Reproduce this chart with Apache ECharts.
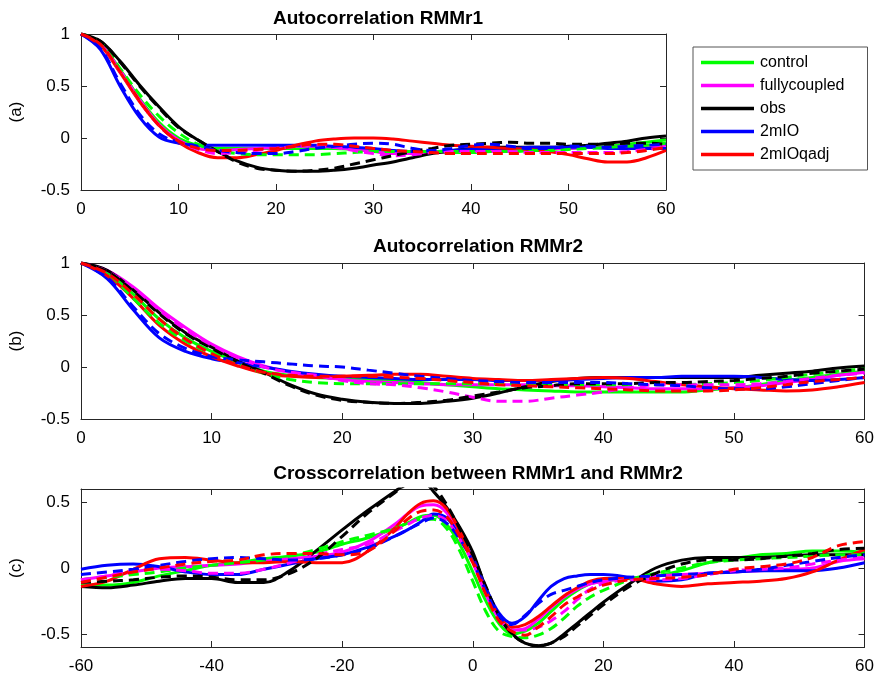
<!DOCTYPE html>
<html>
<head>
<meta charset="utf-8">
<script src="https://cdn.jsdelivr.net/npm/echarts@6/dist/echarts.min.js"></script>
<style>html,body{margin:0;padding:0;background:#fff}#c{width:877px;height:677px}</style>
</head>
<body>
<div id="c"></div>
<script>
// ---------- data ----------
const seriesNames = ['control', 'fullycoupled', 'obs', '2mIO', '2mIOqadj'];
const xTicksAB = [0, 10, 20, 30, 40, 50, 60];
const xTicksC = [-60, -40, -20, 0, 20, 40, 60];
const yTicksAB = [-0.5, 0, 0.5, 1];
const yTicksC = [-0.5, 0, 0.5];

const lagsAB = [0,2,4,6,8,10,12,14,16,18,20,22,24,26,28,30,32,34,36,38,40,42,44,46,48,50,52,54,56,58,60];

// (a) Autocorrelation RMMr1
const aControl     = [1,0.9,0.66,0.38,0.15,0.0,-0.07,-0.1,-0.1,-0.1,-0.1,-0.1,-0.1,-0.1,-0.11,-0.12,-0.13,-0.14,-0.14,-0.14,-0.14,-0.13,-0.13,-0.12,-0.11,-0.1,-0.09,-0.08,-0.06,-0.04,-0.02];
const aControlDash = [1,0.92,0.67,0.42,0.21,0.05,-0.06,-0.12,-0.15,-0.16,-0.16,-0.16,-0.16,-0.15,-0.14,-0.13,-0.13,-0.13,-0.13,-0.13,-0.13,-0.13,-0.13,-0.12,-0.12,-0.11,-0.1,-0.09,-0.08,-0.07,-0.05];
const aFully       = [1,0.9,0.65,0.37,0.13,-0.02,-0.1,-0.12,-0.11,-0.1,-0.09,-0.08,-0.08,-0.09,-0.11,-0.13,-0.15,-0.15,-0.14,-0.13,-0.12,-0.11,-0.1,-0.1,-0.1,-0.1,-0.09,-0.09,-0.08,-0.08,-0.07];
const aFullyDash   = [1,0.9,0.64,0.36,0.12,-0.03,-0.11,-0.15,-0.14,-0.12,-0.1,-0.08,-0.07,-0.09,-0.12,-0.15,-0.17,-0.16,-0.14,-0.13,-0.13,-0.13,-0.13,-0.14,-0.14,-0.14,-0.14,-0.14,-0.13,-0.11,-0.09];
const aObs         = [1,0.93,0.74,0.51,0.3,0.11,-0.02,-0.13,-0.22,-0.28,-0.31,-0.32,-0.32,-0.31,-0.29,-0.26,-0.23,-0.19,-0.15,-0.12,-0.1,-0.09,-0.09,-0.09,-0.09,-0.08,-0.07,-0.05,-0.03,0.0,0.02];
const aObsDash     = [1,0.93,0.73,0.5,0.29,0.1,-0.02,-0.13,-0.23,-0.29,-0.31,-0.32,-0.31,-0.29,-0.25,-0.21,-0.17,-0.13,-0.1,-0.07,-0.06,-0.05,-0.04,-0.05,-0.05,-0.06,-0.06,-0.06,-0.05,-0.05,-0.06];
const aIO          = [1,0.85,0.5,0.2,0.01,-0.05,-0.07,-0.07,-0.07,-0.07,-0.07,-0.07,-0.07,-0.08,-0.09,-0.1,-0.12,-0.13,-0.13,-0.12,-0.11,-0.1,-0.1,-0.09,-0.09,-0.09,-0.09,-0.1,-0.1,-0.1,-0.1];
const aIODash      = [1,0.86,0.53,0.23,0.04,-0.04,-0.08,-0.12,-0.14,-0.15,-0.15,-0.13,-0.1,-0.08,-0.06,-0.05,-0.06,-0.1,-0.12,-0.1,-0.07,-0.06,-0.08,-0.1,-0.1,-0.08,-0.08,-0.09,-0.08,-0.07,-0.06];
const aQadj        = [1,0.89,0.63,0.35,0.12,-0.04,-0.14,-0.19,-0.19,-0.16,-0.12,-0.07,-0.03,-0.01,0.0,0.0,-0.01,-0.03,-0.05,-0.07,-0.08,-0.09,-0.1,-0.11,-0.13,-0.16,-0.2,-0.23,-0.23,-0.19,-0.12];
const aQadjDash    = [1,0.9,0.64,0.36,0.12,-0.03,-0.1,-0.12,-0.12,-0.11,-0.1,-0.08,-0.06,-0.06,-0.08,-0.1,-0.12,-0.13,-0.14,-0.15,-0.15,-0.15,-0.15,-0.15,-0.15,-0.15,-0.15,-0.15,-0.14,-0.12,-0.09];

// (b) Autocorrelation RMMr2
const bControl     = [1,0.91,0.7,0.46,0.28,0.15,0.05,-0.04,-0.08,-0.1,-0.11,-0.12,-0.13,-0.15,-0.17,-0.19,-0.21,-0.22,-0.23,-0.24,-0.24,-0.24,-0.24,-0.24,-0.22,-0.2,-0.17,-0.13,-0.1,-0.07,-0.04];
const bControlDash = [1,0.9,0.66,0.42,0.25,0.13,0.03,-0.06,-0.12,-0.15,-0.16,-0.16,-0.16,-0.16,-0.16,-0.16,-0.16,-0.16,-0.17,-0.17,-0.17,-0.17,-0.17,-0.17,-0.16,-0.15,-0.13,-0.1,-0.07,-0.04,-0.02];
const bFully       = [1,0.93,0.77,0.56,0.38,0.22,0.1,0.01,-0.05,-0.09,-0.12,-0.14,-0.15,-0.16,-0.17,-0.17,-0.17,-0.17,-0.18,-0.18,-0.19,-0.2,-0.21,-0.21,-0.21,-0.2,-0.18,-0.15,-0.12,-0.08,-0.05];
const bFullyDash   = [1,0.92,0.75,0.54,0.36,0.2,0.09,0.0,-0.05,-0.08,-0.13,-0.16,-0.17,-0.2,-0.24,-0.29,-0.33,-0.33,-0.3,-0.27,-0.24,-0.2,-0.17,-0.17,-0.17,-0.17,-0.16,-0.14,-0.11,-0.08,-0.06];
const bObs         = [1,0.93,0.74,0.52,0.33,0.19,0.06,-0.05,-0.17,-0.26,-0.31,-0.34,-0.35,-0.35,-0.33,-0.3,-0.25,-0.19,-0.14,-0.11,-0.1,-0.1,-0.1,-0.1,-0.1,-0.1,-0.08,-0.06,-0.04,-0.01,0.01];
const bObsDash     = [1,0.92,0.73,0.51,0.32,0.18,0.05,-0.06,-0.18,-0.27,-0.32,-0.34,-0.35,-0.34,-0.32,-0.28,-0.24,-0.2,-0.18,-0.16,-0.16,-0.16,-0.15,-0.15,-0.14,-0.13,-0.11,-0.09,-0.06,-0.04,-0.02];
const bIO          = [1,0.85,0.55,0.28,0.15,0.08,0.04,0.0,-0.04,-0.07,-0.09,-0.1,-0.11,-0.12,-0.12,-0.12,-0.13,-0.13,-0.13,-0.12,-0.11,-0.1,-0.1,-0.09,-0.09,-0.09,-0.1,-0.12,-0.13,-0.12,-0.1];
const bIODash      = [1,0.86,0.58,0.32,0.18,0.1,0.07,0.05,0.03,0.01,0.0,-0.03,-0.06,-0.09,-0.11,-0.13,-0.14,-0.15,-0.15,-0.15,-0.15,-0.16,-0.17,-0.18,-0.2,-0.21,-0.21,-0.19,-0.16,-0.13,-0.1];
const bQadj        = [1,0.88,0.66,0.4,0.22,0.1,0.01,-0.06,-0.09,-0.1,-0.09,-0.08,-0.07,-0.07,-0.09,-0.11,-0.12,-0.13,-0.12,-0.11,-0.1,-0.11,-0.14,-0.17,-0.19,-0.21,-0.22,-0.23,-0.22,-0.19,-0.15];
const bQadjDash    = [1,0.9,0.7,0.46,0.27,0.13,0.02,-0.05,-0.08,-0.09,-0.09,-0.09,-0.1,-0.11,-0.13,-0.15,-0.17,-0.18,-0.19,-0.2,-0.21,-0.22,-0.23,-0.23,-0.23,-0.22,-0.2,-0.17,-0.14,-0.12,-0.1];

// (c) Crosscorrelation between RMMr1 and RMMr2
const lagsC = [-60,-56,-52,-48,-44,-40,-36,-32,-28,-24,-20,-16,-12,-10,-8,-6,-4,-2,0,2,4,6,8,10,12,14,16,18,20,24,28,32,36,40,44,48,52,56,60];
const cControl     = [-0.13,-0.13,-0.11,-0.06,-0.02,0.02,0.04,0.07,0.09,0.12,0.18,0.23,0.3,0.34,0.39,0.4,0.33,0.18,-0.03,-0.25,-0.42,-0.5,-0.48,-0.42,-0.33,-0.24,-0.17,-0.12,-0.1,-0.08,-0.06,-0.02,0.04,0.07,0.1,0.11,0.13,0.13,0.12];
const cControlDash = [-0.09,-0.07,-0.05,-0.03,0.0,0.02,0.04,0.06,0.09,0.14,0.2,0.25,0.3,0.34,0.37,0.37,0.3,0.13,-0.1,-0.33,-0.48,-0.52,-0.53,-0.51,-0.46,-0.38,-0.29,-0.22,-0.17,-0.09,-0.04,0.0,0.04,0.06,0.07,0.08,0.09,0.1,0.1];
const cFully       = [-0.09,-0.06,-0.03,0.0,0.01,0.02,0.03,0.05,0.07,0.09,0.12,0.2,0.33,0.41,0.47,0.48,0.42,0.25,0.05,-0.18,-0.37,-0.47,-0.46,-0.39,-0.3,-0.22,-0.16,-0.12,-0.1,-0.08,-0.06,-0.05,-0.04,-0.03,-0.02,-0.01,0.0,0.05,0.07];
const cFullyDash   = [-0.09,-0.06,-0.02,-0.01,-0.02,-0.04,-0.04,-0.01,0.04,0.1,0.14,0.18,0.28,0.33,0.38,0.4,0.36,0.22,0.04,-0.2,-0.38,-0.47,-0.47,-0.45,-0.4,-0.33,-0.24,-0.16,-0.12,-0.09,-0.09,-0.08,-0.05,-0.02,-0.01,0.0,0.03,0.06,0.08];
const cObs         = [-0.14,-0.15,-0.13,-0.1,-0.08,-0.08,-0.11,-0.11,-0.02,0.13,0.29,0.44,0.58,0.64,0.67,0.58,0.46,0.31,0.12,-0.15,-0.36,-0.5,-0.57,-0.59,-0.57,-0.5,-0.42,-0.34,-0.26,-0.12,0.0,0.06,0.08,0.08,0.08,0.09,0.1,0.1,0.1];
const cObsDash     = [-0.11,-0.1,-0.09,-0.07,-0.06,-0.07,-0.09,-0.09,-0.04,0.07,0.24,0.42,0.57,0.64,0.68,0.62,0.48,0.3,0.1,-0.14,-0.36,-0.5,-0.57,-0.59,-0.57,-0.52,-0.44,-0.36,-0.28,-0.14,-0.04,0.03,0.06,0.06,0.07,0.09,0.11,0.14,0.15];
const cIO          = [-0.01,0.02,0.03,0.01,-0.03,-0.05,-0.05,-0.01,0.03,0.07,0.1,0.16,0.24,0.29,0.35,0.41,0.38,0.24,0.08,-0.15,-0.34,-0.42,-0.37,-0.25,-0.14,-0.08,-0.06,-0.05,-0.05,-0.07,-0.1,-0.09,-0.04,-0.03,-0.02,-0.02,-0.02,0.0,0.04];
const cIODash      = [-0.05,-0.03,-0.01,0.02,0.05,0.07,0.08,0.07,0.06,0.07,0.1,0.15,0.24,0.29,0.34,0.38,0.34,0.22,0.05,-0.17,-0.36,-0.43,-0.36,-0.27,-0.2,-0.17,-0.14,-0.11,-0.09,-0.07,-0.06,-0.05,-0.04,-0.03,-0.01,0.02,0.05,0.08,0.1];
const cQadj        = [-0.14,-0.1,-0.01,0.07,0.08,0.06,0.04,0.04,0.05,0.04,0.04,0.13,0.3,0.41,0.49,0.51,0.45,0.28,0.06,-0.17,-0.37,-0.45,-0.43,-0.37,-0.29,-0.21,-0.15,-0.1,-0.08,-0.08,-0.12,-0.14,-0.12,-0.11,-0.1,-0.08,-0.03,0.06,0.14];
const cQadjDash    = [-0.11,-0.07,-0.03,0.0,0.03,0.05,0.06,0.1,0.11,0.11,0.1,0.13,0.28,0.37,0.43,0.44,0.39,0.24,0.04,-0.2,-0.4,-0.48,-0.51,-0.45,-0.37,-0.28,-0.22,-0.17,-0.13,-0.09,-0.08,-0.07,-0.05,-0.01,0.01,0.03,0.08,0.17,0.2];

// ---------- chart ----------
const colors = {control:'#00ff00', fullycoupled:'#ff00ff', obs:'#000000', '2mIO':'#0000ff', '2mIOqadj':'#ff0000'};
const FONT = 'Liberation Sans, Arial, Helvetica, sans-serif';
const AX = '#262626';

function mk(name, xs, ys, dashed, idx) {
  return {
    type: 'line', name: dashed ? name + ' (dashed)' : name,
    xAxisIndex: idx, yAxisIndex: idx,
    data: xs.map((x, i) => [x, ys[i]]),
    smooth: 0.35, symbol: 'none', showSymbol: false, clip: true,
    lineStyle: {color: colors[name], width: 3, type: dashed ? [10, 6] : 'solid', cap: 'butt'},
    itemStyle: {color: colors[name]},
    emphasis: {disabled: true}, animation: false
  };
}

const panels = [
  {lags: lagsAB, sets: [[aControl,aControlDash],[aFully,aFullyDash],[aObs,aObsDash],[aIO,aIODash],[aQadj,aQadjDash]]},
  {lags: lagsAB, sets: [[bControl,bControlDash],[bFully,bFullyDash],[bObs,bObsDash],[bIO,bIODash],[bQadj,bQadjDash]]},
  {lags: lagsC,  sets: [[cControl,cControlDash],[cFully,cFullyDash],[cObs,cObsDash],[cIO,cIODash],[cQadj,cQadjDash]]}
];

const series = [];
panels.forEach((p, pi) => {
  p.sets.forEach((s, si) => series.push(mk(seriesNames[si], p.lags, s[0], false, pi * 2)));
  p.sets.forEach((s, si) => series.push(mk(seriesNames[si], p.lags, s[1], true, pi * 2)));
});

const grids = [
  {left: 80, top: 34, width: 586, height: 156},
  {left: 80, top: 263, width: 787, height: 156},
  {left: 80, top: 489, width: 787, height: 158}
];

const xDefs = [
  {min: 0, max: 60, interval: 10, ticks: xTicksAB},
  {min: 0, max: 60, interval: 10, ticks: xTicksAB},
  {min: -60, max: 60, interval: 20, ticks: xTicksC}
];
const yDefs = [
  {min: -0.5, max: 1, ticks: yTicksAB, name: '(a)'},
  {min: -0.5, max: 1, ticks: yTicksAB, name: '(b)'},
  {min: -0.6, max: 0.6, ticks: yTicksC, name: '(c)'}
];

const xAxis = [], yAxis = [];
for (let g = 0; g < 3; g++) {
  const xd = xDefs[g], yd = yDefs[g];
  ['bottom', 'top'].forEach((pos, k) => {
    xAxis.push({
      type: 'value', gridIndex: g, position: pos, min: xd.min, max: xd.max, interval: xd.interval,
      axisLine: {show: true, onZero: false, lineStyle: {color: AX, width: 1}},
      axisTick: {show: true, inside: true, length: 6, lineStyle: {color: AX}, customValues: xd.ticks},
      axisLabel: {show: k === 0, color: '#000', fontSize: 17, fontFamily: FONT, margin: 11, customValues: xd.ticks},
      splitLine: {show: false}
    });
  });
  ['left', 'right'].forEach((pos, k) => {
    yAxis.push({
      type: 'value', gridIndex: g, position: pos, min: yd.min, max: yd.max,
      name: k === 0 ? yd.name : '', nameLocation: 'middle', nameGap: 56, nameRotate: 90,
      nameTextStyle: {color: '#000', fontSize: 17, fontFamily: FONT},
      axisLine: {show: true, onZero: false, lineStyle: {color: AX, width: 1}},
      axisTick: {show: true, inside: true, length: 6, lineStyle: {color: AX}, customValues: yd.ticks},
      axisLabel: {show: k === 0, color: '#000', fontSize: 17, fontFamily: FONT, margin: 11, customValues: yd.ticks},
      splitLine: {show: false}
    });
  });
}

const titleStyle = {color: '#000', fontSize: 19, fontWeight: 'bold', fontFamily: FONT};
const option = {
  backgroundColor: '#fff',
  animation: false,
  title: [
    {text: 'Autocorrelation RMMr1', left: 373, top: 4, textAlign: 'center', textStyle: titleStyle},
    {text: 'Autocorrelation RMMr2', left: 473, top: 232, textAlign: 'center', textStyle: titleStyle},
    {text: 'Crosscorrelation between RMMr1 and RMMr2', left: 473, top: 459, textAlign: 'center', textStyle: titleStyle}
  ],
  legend: {
    data: seriesNames, orient: 'vertical', left: 693, top: 47,
    backgroundColor: '#fff', borderColor: '#555', borderWidth: 1,
    padding: [7, 23, 7, 8], itemGap: 6, itemWidth: 53, itemHeight: 3.5,
    icon: 'rect', selectedMode: false,
    textStyle: {color: '#000', fontSize: 16, fontFamily: FONT, lineHeight: 17, padding: [0, 0, 0, 1]}
  },
  grid: grids,
  xAxis: xAxis,
  yAxis: yAxis,
  series: series
};

const chart = echarts.init(document.getElementById('c'), null, {renderer: 'canvas'});
chart.setOption(option);
</script>
</body>
</html>
